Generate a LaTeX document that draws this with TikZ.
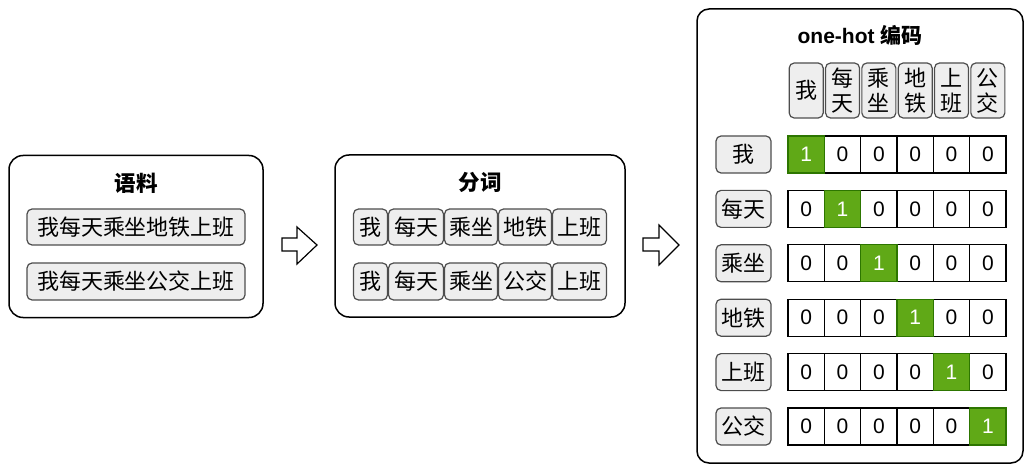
\documentclass[tikz,border=0pt]{standalone}
\usepackage{fontspec}
\setmainfont{Liberation Sans}
\newfontfamily\cjk{Noto Sans CJK SC}
\definecolor{hotgreen}{HTML}{60A917}
\definecolor{hotedge}{HTML}{2D7600}
\definecolor{tokfill}{HTML}{EEEEEE}
\definecolor{tokedge}{HTML}{4D4D4D}
\begin{document}
\begin{tikzpicture}[x=1pt,y=-1pt,
 outerbox/.style={draw, rounded corners=14pt, line width=1.5pt, inner sep=0},
 ttl/.style={font=\fontsize{21.5}{25}\selectfont\bfseries\cjk},
 tok/.style={draw=tokedge, fill=tokfill, rounded corners=5pt, line width=1.2pt, inner sep=0, font=\fontsize{22}{25}\selectfont\cjk},
 cell/.style={draw, line width=1.2pt, inner sep=0, minimum width=36.33pt, minimum height=37pt, font=\fontsize{21}{24}\selectfont},
 hot/.style={cell, fill=hotgreen, draw=hotedge, text=white},
 blockarrow/.style={draw, line width=1.2pt, fill=white, line join=miter}]
\useasboundingbox (0,0) rectangle (1031,473);
% box 1
\node[outerbox, minimum width=254pt, minimum height=162pt] (box1) at (136,236.5) {};
\node[ttl] (t1) at (136,183) {语料};
\node[tok, minimum width=218pt, minimum height=36pt] (s1) at (136,227) {我每天乘坐地铁上班};
\node[tok, minimum width=218pt, minimum height=37pt] (s2) at (136,281.5) {我每天乘坐公交上班};
% box 2
\node[outerbox, minimum width=290pt, minimum height=162pt] (box2) at (480,236) {};
\node[ttl] (t2) at (480,182) {分词};
\foreach \w/\x/\ww [count=\k] in {我/370.5/34, 每天/416/55, 乘坐/471/53, 地铁/525/53, 上班/579.5/54}{
  \node[tok, minimum width=\ww pt, minimum height=36pt] (a\k) at (\x,227) {\w};
}
\foreach \w/\x/\ww [count=\k] in {我/370.5/34, 每天/416/55, 乘坐/471/53, 公交/525/53, 上班/579.5/54}{
  \node[tok, minimum width=\ww pt, minimum height=37pt] (b\k) at (\x,281.5) {\w};
}
% arrows
\draw[blockarrow] (282,238) -- (297,238) -- (297,227) -- (317,245) -- (297,264) -- (297,251) -- (282,251) -- cycle;
\draw[blockarrow] (643,238) -- (659,238) -- (659,225) -- (679,245) -- (659,265) -- (659,251) -- (643,251) -- cycle;
% box 3
\node[outerbox, rounded corners=12pt, minimum width=326pt, minimum height=454pt] (box3) at (860,236) {};
\node[font=\fontsize{21}{24}\selectfont\bfseries] (t3) at (860,35) {one-hot {\cjk 编码}};
\foreach \w [count=\j] in {我, 每\\天, 乘\\坐, 地\\铁, 上\\班, 公\\交}{
  \node[tok, align=center, minimum width=34pt, minimum height=55pt] (h\j) at ({806.2+(\j-1)*36.33},90.5) {\w};
}
\foreach \lab [count=\i] in {我, 每天, 乘坐, 地铁, 上班, 公交}{
  \node[tok, minimum width=55pt, minimum height=37pt] (r\i) at (743.5,{154.5+(\i-1)*54.4}) {\lab};
  \foreach \j in {1,...,6}{
    \ifnum\i=\j\relax
    \else
      \node[cell] (c\i\j) at ({806.2+(\j-1)*36.33},{154.5+(\i-1)*54.4}) {0};
    \fi
  }
  \node[hot] (c\i\i) at ({806.2+(\i-1)*36.33},{154.5+(\i-1)*54.4}) {1};
}
\end{tikzpicture}
\end{document}
